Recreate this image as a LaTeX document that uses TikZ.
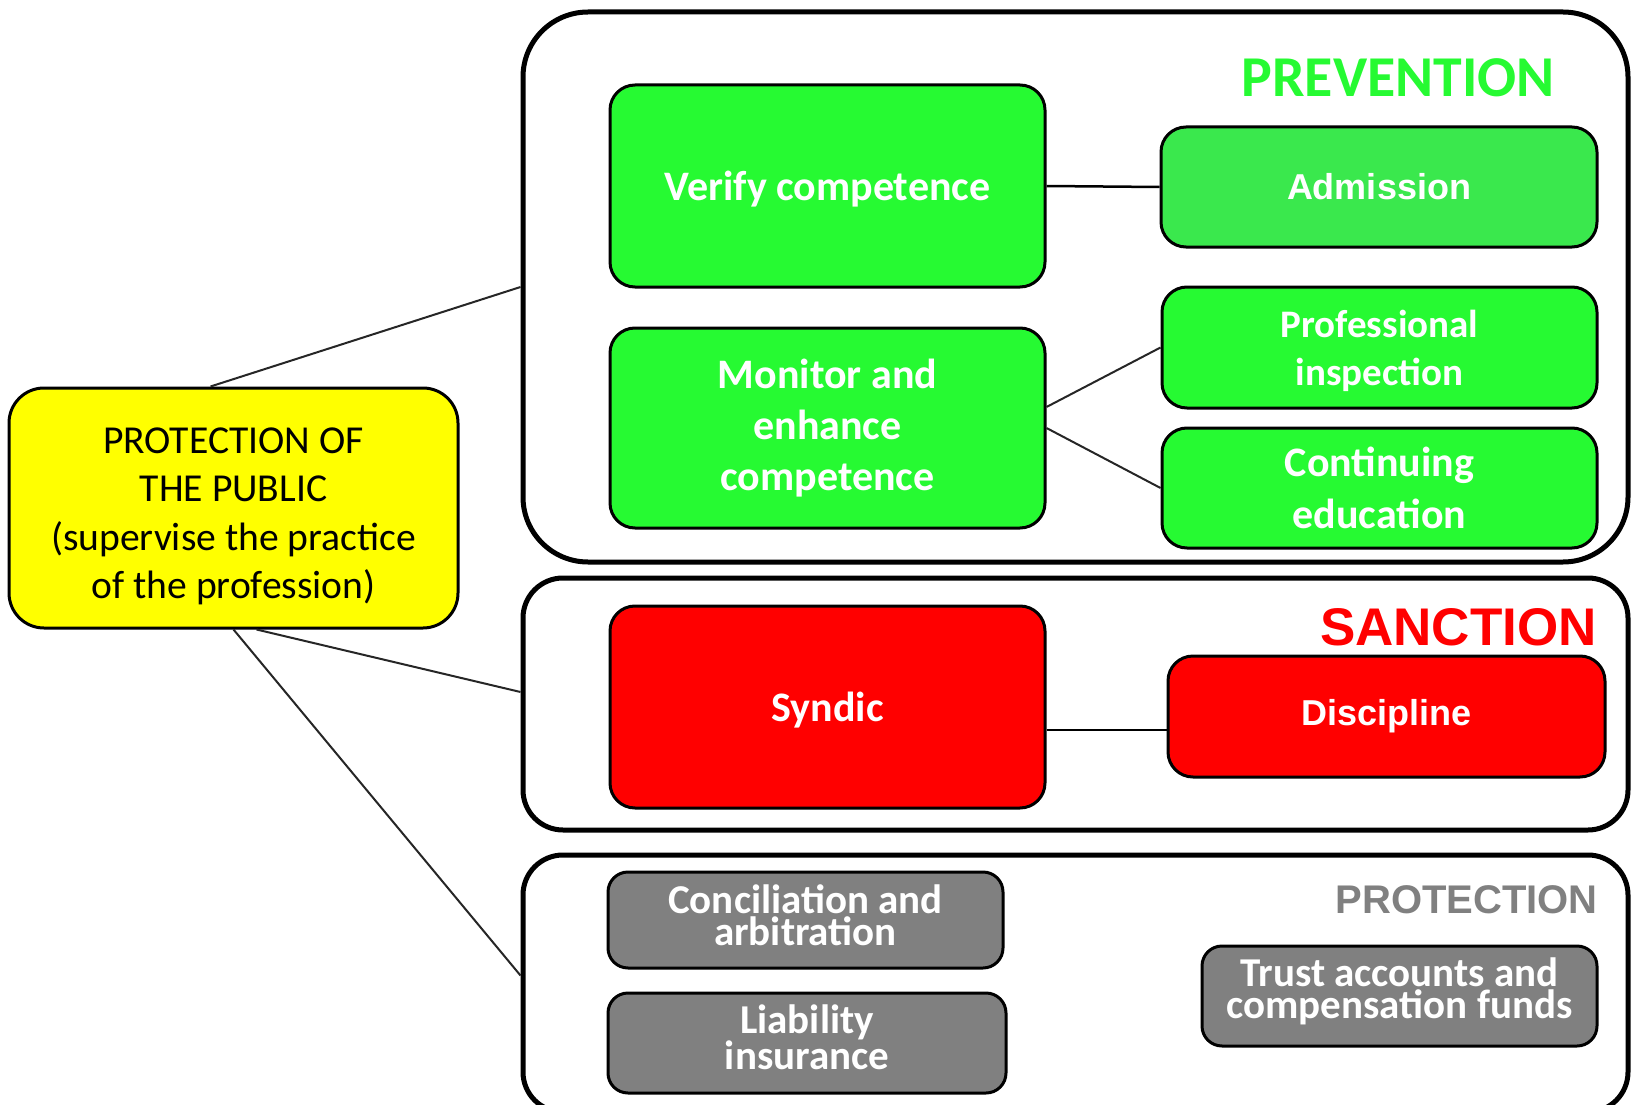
\documentclass[tikz,border=0pt]{standalone}
\usepackage{fontspec}
\setmainfont{Carlito}
\newfontfamily\arialfont{Liberation Sans}
\usepackage{tikz}
\usetikzlibrary{positioning}
\definecolor{mygreen}{RGB}{38,250,50}
\definecolor{mylightgreen}{RGB}{58,232,77}
\definecolor{myred}{RGB}{255,0,0}
\definecolor{mygray}{RGB}{128,128,128}
\definecolor{myyellow}{RGB}{255,255,0}

\tikzset{
  outerbox/.style = {draw, line width=5pt, rounded corners=40pt, inner sep=0pt},
  itembox/.style = {draw, line width=3pt, rounded corners=25pt, inner sep=0pt, align=center, text=white,
    font=\bfseries\fontsize{42}{51}\selectfont},
  greenbox/.style = {itembox, fill=mygreen},
  redbox/.style = {itembox, fill=myred},
  graybox/.style = {itembox, fill=mygray, rounded corners=20pt, font=\bfseries\fontsize{41}{32}\selectfont},
  link/.style = {line width=2pt, black!85},
  title/.style = {anchor=base east, inner sep=0pt, font=\bfseries}
}

\begin{document}
\begin{tikzpicture}[x=1pt, y=-1pt]
\useasboundingbox (0,0) rectangle (1634,1105);

%%%%%%%%%%%%%%% public %%%%%%%%%%%%%%%%
\node [draw, line width=3pt, rounded corners=35pt, fill=myyellow, align=center,
  minimum width=449, minimum height=240, inner sep=0pt, text depth=0pt,
  font=\fontsize{39.6}{48.3}\selectfont] (public) at (233.5,508)
  {\rule{0pt}{36pt}PROTECTION OF\\THE PUBLIC\\(supervise the practice\\of the profession)};

%%%%%%%%%%%%%%% prevention %%%%%%%%%%%%%%%%
\node [outerbox, rounded corners=65pt, minimum width=1105, minimum height=550] (prevention) at (1075.5,287) {};
\node [title, text=mygreen, font=\bfseries\fontsize{57.8}{60}\selectfont] (prevtitle) at (1555,97) {PREVENTION};
\node [greenbox, minimum width=435, minimum height=202, text depth=0pt] (verify) at (827.5,186) {Verify competence};
\node [greenbox, fill=mylightgreen, minimum width=436, minimum height=120,
  font=\arialfont\bfseries\fontsize{36}{40}\selectfont] (admission) at (1379,187) {Admission};
\node [greenbox, minimum width=435, minimum height=200] (monitor) at (827.5,428) {Monitor and\\enhance\\competence};
\node [greenbox, minimum width=435, minimum height=121, text depth=0pt,
  font=\bfseries\fontsize{39}{48}\selectfont] (inspection) at (1379.5,347.5) {Professional\\inspection};
\node [greenbox, minimum width=435, minimum height=120,
  font=\bfseries\fontsize{42}{52}\selectfont] (education) at (1379.5,488) {Continuing\\education};
\draw [link, line width=2.5pt, black] (verify.east) -- (admission.west);
\draw [link] ([yshift=21pt]monitor.east) -- (inspection.west);
\draw [link] (monitor.east) -- (education.west);

%%%%%%%%%%%%%%% sanction %%%%%%%%%%%%%%%%
\node [outerbox, minimum width=1105, minimum height=252] (sanction) at (1075.5,704) {};
\node [title, text=myred, font=\arialfont\bfseries\fontsize{53}{56}\selectfont] (sanctitle) at (1597,645) {SANCTION};
\node [redbox, minimum width=435, minimum height=202, text depth=0pt] (syndic) at (827.5,707) {Syndic};
\node [redbox, minimum width=437, minimum height=121,
  font=\arialfont\bfseries\fontsize{36}{40}\selectfont] (discipline) at (1386.5,716.5) {Discipline};
\draw [link, line width=2.5pt, black] ([yshift=-23pt]syndic.east) coordinate (s) -- (s -| discipline.west);

%%%%%%%%%%%%%%% protection %%%%%%%%%%%%%%%%
\node [outerbox, minimum width=1105, minimum height=257] (protection) at (1075.5,983.5) {};
\node [title, text=mygray, font=\arialfont\bfseries\fontsize{40}{44}\selectfont] (prottitle) at (1598,913) {PROTECTION};
\node [graybox, minimum width=395, minimum height=96, text depth=10pt] (conciliation) at (805.5,920) {Conciliation and\\arbitration};
\node [graybox, minimum width=398, minimum height=100, text depth=12pt] (liability) at (807,1043) {Liability\\insurance};
\node [graybox, minimum width=395, minimum height=100, text depth=16pt] (trust) at (1399.5,996) {Trust accounts and\\compensation funds};

%%%%%%%%%%%%%%% links %%%%%%%%%%%%%%%%
\draw [link] ([xshift=-23pt]public.north) -- (prevention.west);
\draw [link] ([xshift=23pt]public.south) -- ([yshift=12pt]sanction.west);
\draw [link] (public.south) -- ([yshift=8pt]protection.west);

\end{tikzpicture}
\end{document}
